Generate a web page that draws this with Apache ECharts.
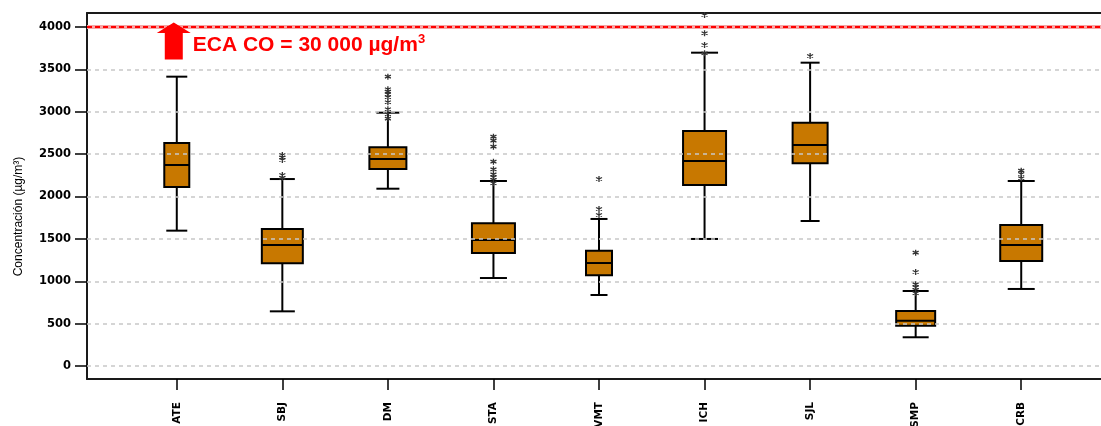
<!DOCTYPE html>
<html>
<head>
<meta charset="utf-8">
<script src="https://cdn.jsdelivr.net/npm/echarts@6/dist/echarts.min.js"></script>
<style>html,body{margin:0;padding:0;background:#fff}#c{width:1101px;height:426px}</style>
</head>
<body>
<div id="c"></div>
<script>
// ---- data ----
const categories = ['ATE', 'SBJ', 'DM', 'STA', 'VMT', 'ICH', 'SJL', 'SMP', 'CRB'];
const lowWhisker  = [1597,  645, 2092, 1038,  838, 1499, 1711,  339,  909];
const q1          = [2112, 1212, 2324, 1333, 1070, 2136, 2392,  476, 1239];
const median      = [2372, 1428, 2442, 1487, 1215, 2419, 2608,  534, 1428];
const q3          = [2631, 1617, 2580, 1684, 1360, 2773, 2871,  649, 1664];
const highWhisker = [3414, 2206, 2989, 2183, 1735, 3697, 3579,  885, 2183];
const outliers = [
  [],
  [2490, 2462, 2431, 2254, 2220],
  [3414, 3265, 3237, 3206, 3171, 3112, 3029, 2970, 2918],
  [2706, 2659, 2588, 2411, 2321, 2262, 2227, 2195, 2156],
  [2206, 1852, 1782],
  [4142, 3926, 3788, 3690],
  [3658],
  [1337, 1109, 964, 929, 897, 858],
  [2305, 2265, 2215]
];
const yTicks = { min: 0, max: 4000, step: 500 };
const ecaLimit = 4000;
const ecaLabel = 'ECA CO = 30 000 µg/m';
const yAxisName = 'Concentración (µg/m³)';

// ---- styles ----
const boxWidthPx = [25, 41, 37, 43, 26, 43, 35, 39, 42];
const capWidthPx = [21, 25, 23, 27, 17, 27, 19, 26, 27];
const boxFill = '#c87800';
const frameColor = '#1a1a1a';

const boxData = categories.map((c, i) => [i, lowWhisker[i], q1[i], median[i], q3[i], highWhisker[i]]);
const outlierData = [];
outliers.forEach((arr, i) => arr.forEach(v => outlierData.push([i, v])));

// the category grid reaches 13px below the zero line (frame bottom), so its hidden y scale starts below 0
const pxPerUnit = 339 / (yTicks.max - yTicks.min);
const dataYMin = yTicks.min - 13 / pxPerUnit;

const chart = echarts.init(document.getElementById('c'), null, { renderer: 'canvas' });

function renderBox(params, api) {
  const i = api.value(0);
  const x = api.coord([i, 0])[0];
  const yl = api.coord([i, api.value(1)])[1];
  const yq1 = api.coord([i, api.value(2)])[1];
  const ym = api.coord([i, api.value(3)])[1];
  const yq3 = api.coord([i, api.value(4)])[1];
  const yh = api.coord([i, api.value(5)])[1];
  const bw = boxWidthPx[i], cw = capWidthPx[i];
  const ln = (x1, y1, x2, y2, w) => ({ type: 'line', shape: { x1, y1, x2, y2 }, style: { stroke: '#000', lineWidth: w || 2 } });
  return {
    type: 'group',
    children: [
      ln(x, yh, x, yl),
      ln(x - cw / 2, yh, x + cw / 2, yh),
      ln(x - cw / 2, yl, x + cw / 2, yl),
      { type: 'rect', shape: { x: x - bw / 2, y: yq3, width: bw, height: yq1 - yq3 }, style: { fill: boxFill, stroke: '#000', lineWidth: 2 } },
      ln(x - bw / 2, ym, x + bw / 2, ym)
    ]
  };
}

const hiddenBits = { axisTick: { show: false }, axisLabel: { show: false }, splitLine: { show: false } };

const option = {
  animation: false,
  grid: [
    { left: 87, width: 1025, top: 13, bottom: 47, outerBoundsMode: 'none', containLabel: false },
    { left: 87, width: 1025, top: 27, bottom: 60, outerBoundsMode: 'none', containLabel: false },
    { left: 124, width: 950, top: 27, bottom: 47, outerBoundsMode: 'none', containLabel: false }
  ],
  xAxis: [
    Object.assign({ gridIndex: 0, type: 'value', min: 0, max: 1, position: 'bottom', axisLine: { show: true, onZero: false, lineStyle: { color: frameColor, width: 2 } } }, hiddenBits),
    Object.assign({ gridIndex: 0, type: 'value', min: 0, max: 1, position: 'top', axisLine: { show: true, onZero: false, lineStyle: { color: frameColor, width: 2 } } }, hiddenBits),
    { gridIndex: 1, type: 'value', show: false, min: 0, max: 1 },
    {
      gridIndex: 2, type: 'category', data: categories, position: 'bottom',
      axisLine: { show: false, onZero: false },
      axisTick: { show: true, inside: false, alignWithLabel: true, length: 11, interval: 0, lineStyle: { color: '#000', width: 1.5 } },
      axisLabel: { rotate: 90, margin: 23, interval: 0, fontFamily: 'DejaVu Sans', fontWeight: 'bold', fontSize: 10.5, color: '#000' }
    }
  ],
  yAxis: [
    Object.assign({ gridIndex: 0, type: 'value', min: 0, max: 1, position: 'left', axisLine: { show: true, onZero: false, lineStyle: { color: frameColor, width: 2 } } }, hiddenBits),
    {
      gridIndex: 1, type: 'value', min: yTicks.min, max: yTicks.max, interval: yTicks.step, z: 6,
      axisLine: { show: false },
      axisTick: { show: true, length: 12, lineStyle: { color: '#000', width: 1.5 } },
      axisLabel: { margin: 16, fontFamily: 'DejaVu Sans', fontWeight: 'bold', fontSize: 11.5, color: '#000', formatter: v => String(v) },
      splitLine: { show: true, lineStyle: { color: '#c8c8c8', width: 1.5, type: [4, 4] } },
      name: yAxisName, nameLocation: 'middle', nameGap: 62,
      nameTextStyle: { fontFamily: 'Liberation Sans', fontSize: 12, color: '#000', padding: [0, 40, 0, 0] }
    },
    { gridIndex: 2, type: 'value', min: dataYMin, max: yTicks.max, show: false }
  ],
  series: [
    {
      type: 'custom', name: 'box', xAxisIndex: 3, yAxisIndex: 2, z: 1,
      renderItem: renderBox, encode: { x: 0, y: [1, 2, 3, 4, 5] }, data: boxData
    },
    {
      type: 'line', xAxisIndex: 2, yAxisIndex: 1, data: [], z: 8, silent: true,
      markLine: {
        z: 10, silent: true, symbol: 'none', label: { show: false }, animation: false,
        data: [{ yAxis: ecaLimit, lineStyle: { color: '#f7a5a5', width: 4, type: 'solid' } }]
      }
    },
    {
      type: 'line', xAxisIndex: 2, yAxisIndex: 1, data: [], z: 9, silent: true,
      markLine: {
        z: 11, silent: true, symbol: 'none', label: { show: false }, animation: false,
        data: [{ yAxis: ecaLimit, lineStyle: { color: '#ff0000', width: 2, type: [5, 3] } }]
      }
    },
    {
      type: 'scatter', xAxisIndex: 3, yAxisIndex: 2, z: 7, clip: false, silent: true,
      symbol: 'path://M5,0L5,10M0.67,2.5L9.33,7.5M0.67,7.5L9.33,2.5',
      symbolSize: 6,
      itemStyle: { color: '#333', borderColor: '#333', borderWidth: 1.3, opacity: 1 },
      data: outlierData,
      markPoint: {
        z: 12, silent: true, animation: false,
        data: [{
          coord: [categories[0], ecaLimit],
          symbol: 'path://M17,0L34,10.5L26,10.5L26,37L8,37L8,10.5L0,10.5Z',
          symbolSize: [34, 37],
          symbolOffset: [-3, 14],
          itemStyle: { color: '#ff0000', borderWidth: 0 },
          label: {
            show: true, position: [36, 23], align: 'left', verticalAlign: 'middle',
            formatter: '{a|' + ecaLabel + '}{s|3}',
            rich: {
              a: { fontFamily: 'Liberation Sans', fontWeight: 'bold', fontSize: 21, color: '#ff0000', lineHeight: 26 },
              s: { fontFamily: 'Liberation Sans', fontWeight: 'bold', fontSize: 13, color: '#ff0000', lineHeight: 26, verticalAlign: 'top' }
            }
          }
        }]
      }
    }
  ]
};
chart.setOption(option);
</script>
</body>
</html>
